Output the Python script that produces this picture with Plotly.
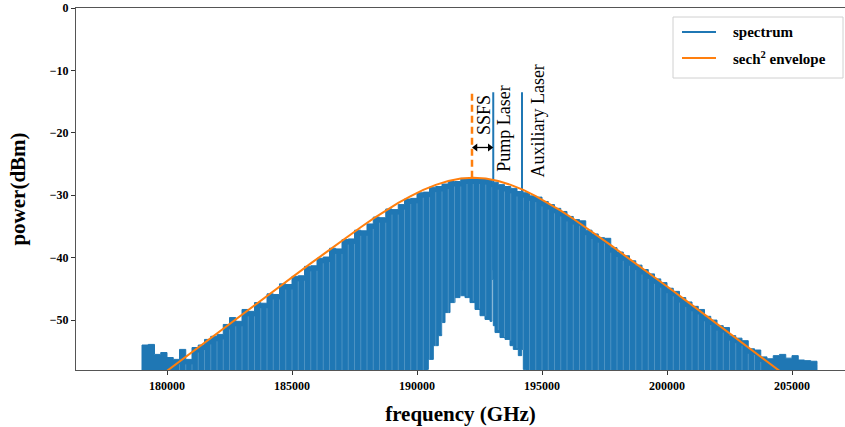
import numpy as np
import plotly.graph_objects as go

# ---------------- data ----------------
comb_start = 179000          # GHz, first sampled comb-line position
comb_step = 250              # GHz between sampled comb-line tops
spectrum_top_db = [
    -54.0, -53.9, -55.5, -55.2, -56.0, -56.3, -54.7, -56.3, -54.4, -54.0,   # 179000-181250
    -53.1, -52.6, -52.3, -50.7, -49.6, -50.2, -48.3, -48.6, -47.2, -47.3,   # 181500-183750
    -45.8, -45.9, -44.2, -44.3, -43.0, -42.9, -41.4, -41.3, -40.1, -39.9,   # 184000-186250
    -38.5, -38.6, -37.1, -37.0, -35.6, -35.7, -34.6, -33.5, -33.6, -32.2,   # 186500-188750
    -32.3, -31.5, -30.6, -30.5, -29.6, -29.5, -28.7, -28.6, -28.2, -27.8,   # 189000-191250
    -27.8, -27.3, -27.4, -27.3, -27.4, -27.5, -27.9, -28.3, -28.6, -28.9,   # 191500-193750
    -29.4, -29.6, -30.1, -30.3, -31.0, -31.5, -32.1, -32.6, -33.4, -33.9,   # 194000-196250
    -34.1, -35.6, -36.2, -36.8, -36.9, -38.4, -39.1, -39.7, -40.5, -41.2,   # 196500-198750
    -41.9, -42.6, -43.4, -44.0, -44.9, -45.4, -46.4, -47.1, -47.8, -48.3,   # 199000-201250
    -49.4, -50.0, -50.9, -51.2, -52.5, -52.9, -53.3, -54.6, -54.8, -55.9,   # 201500-203750
    -56.2, -55.7, -55.5, -56.1, -55.7, -56.4, -56.5, -56.6, -57.1,          # 204000-206000
]

# lower edge of the trace (background floor); -60 means below the visible range
floor_freq = [179000, 190400, 190453, 190653, 190853, 190987, 191120, 191320, 191520,
              191720, 191920, 192120, 192320, 192520, 192720, 192920, 193000, 193053,
              193120, 193320, 193520, 193720, 193853, 194053, 194187, 194253, 194347,
              194400, 206000]
floor_db = [-60, -60, -57.9, -56.3, -54.1, -52.5, -50.4, -48.8, -47.2,
            -46.4, -46.1, -46.4, -47.2, -48.3, -49.3, -49.9, -50.2, -43.5,
            -50.9, -52.0, -52.8, -53.1, -54.1, -54.7, -55.7, -54.7, -57.9,
            -60, -60]

# sech^2 envelope
env_freq = [179750, 180250, 180750, 181250, 181750, 182250, 182750, 183250, 183750,
            184250, 184750, 185250, 185750, 186250, 186750, 187250, 187750, 188250,
            188750, 189250, 189750, 190250, 190750, 191250, 191750, 192250, 192750,
            193250, 193750, 194250, 194750, 195250, 195750, 196250, 196750, 197250,
            197750, 198250, 198750, 199250, 199750, 200250, 200750, 201250, 201750,
            202250, 202750, 203250, 203750, 204250, 204750]
env_db = [-58.89, -57.38, -55.87, -54.36, -52.86, -51.35, -49.84, -48.35, -46.84,
          -45.34, -43.85, -42.38, -40.91, -39.48, -38.00, -36.55, -35.13, -33.76,
          -32.46, -31.24, -30.13, -29.14, -28.33, -27.71, -27.33, -27.20, -27.33,
          -27.71, -28.33, -29.14, -30.13, -31.24, -32.46, -33.76, -35.13, -36.55,
          -38.00, -39.48, -40.91, -42.38, -43.85, -45.34, -46.84, -48.35, -49.84,
          -51.35, -52.86, -54.36, -55.87, -57.38, -58.89]

pump_freq = 193050
aux_freq = 194200
laser_base_db = -42.0
laser_peak_db = -13.5
ssfs_freq = 192200
ssfs_peak_db = -27.2
ssfs_top_db = -13.3
arrow_db = -22.35

# span of the resolved comb lines (gaps between lines are visible here)
comb_resolved_span = [180500, 203750]

legend_labels = ["spectrum", "sech<sup>2</sup> envelope"]

x_tick_vals = [180000, 185000, 190000, 195000, 200000, 205000]
x_tick_text = ["180000", "185000", "190000", "195000", "200000", "205000"]
y_tick_vals = [0, -10, -20, -30, -40, -50]
y_tick_text = ["0", "\u221210", "\u221220", "\u221230", "\u221240", "\u221250"]

# ---------------- figure ----------------
BLUE = "#1f77b4"
ORANGE = "#ff7f0e"
SERIF = "Liberation Serif, Times New Roman, serif"

W, H = 845, 427
ML, MR, MT, MB = 76, 0, 8, 57
PW, PH = W - ML - MR, H - MT - MB
X_RANGE = [176360, 207120]
GHZ_PER_PX = (X_RANGE[1] - X_RANGE[0]) / PW


def px_to_paper(px, py):
    return (px - ML) / PW, (H - MB - py) / PH


comb_freq = [comb_start + i * comb_step for i in range(len(spectrum_top_db))]
poly_x = [comb_freq[0]] + comb_freq + floor_freq[::-1]
poly_y = [-60] + spectrum_top_db + floor_db[::-1]

fig = go.Figure()

fig.add_trace(go.Scatter(
    x=poly_x, y=poly_y, mode="lines", fill="toself", fillcolor=BLUE,
    line=dict(color=BLUE, width=1, shape="hv"), showlegend=False, hoverinfo="skip"))

# faint gaps between neighbouring comb lines
gap_x, gap_y = [], []
for i in range(1, len(comb_freq)):
    f = comb_freq[i]
    if comb_resolved_span[0] <= f <= comb_resolved_span[1]:
        lo = float(np.interp(f, floor_freq, floor_db))
        hi = min(spectrum_top_db[i - 1], spectrum_top_db[i]) - 0.8
        if hi > lo:
            gap_x += [f, f, None]
            gap_y += [lo, hi, None]
fig.add_trace(go.Scatter(x=gap_x, y=gap_y, mode="lines",
                         line=dict(color="rgba(255,255,255,0.2)", width=1),
                         showlegend=False, hoverinfo="skip"))

for f in (pump_freq, aux_freq):
    fig.add_trace(go.Scatter(x=[f, f], y=[laser_base_db, laser_peak_db], mode="lines",
                             line=dict(color=BLUE, width=2), showlegend=False))

fig.add_trace(go.Scatter(x=env_freq, y=env_db, mode="lines", name="sech2 envelope",
                         line=dict(color=ORANGE, width=2), showlegend=False))

fig.add_trace(go.Scatter(x=[ssfs_freq, ssfs_freq], y=[ssfs_peak_db, ssfs_top_db], mode="lines",
                         line=dict(color=ORANGE, width=2.5, dash="7px,4px"), showlegend=False))

# double-headed SSFS arrow between the dashed line and the pump laser
head = 3.5 * GHZ_PER_PX
fig.add_trace(go.Scatter(x=[ssfs_freq + head, pump_freq - head], y=[arrow_db, arrow_db],
                         mode="lines", line=dict(color="black", width=1.3),
                         showlegend=False, hoverinfo="skip"))
fig.add_trace(go.Scatter(x=[ssfs_freq + head, pump_freq - head], y=[arrow_db, arrow_db],
                         mode="markers",
                         marker=dict(symbol=["triangle-left", "triangle-right"], size=7,
                                     color="black", line=dict(width=0)),
                         showlegend=False, hoverinfo="skip"))

label_font = dict(family=SERIF, size=18, color="black")
fig.add_annotation(x=192653, y=-17.1, text="SSFS", textangle=-90, showarrow=False,
                   font=label_font, xref="x", yref="y")
fig.add_annotation(x=193493, y=-19.3, text="Pump Laser", textangle=-90, showarrow=False,
                   font=label_font, xref="x", yref="y")
fig.add_annotation(x=194840, y=-18.2, text="Auxiliary Laser", textangle=-90, showarrow=False,
                   font=label_font, xref="x", yref="y")

# ---- legend (drawn manually, matplotlib style) ----
bx0, by0 = px_to_paper(673, 78)
bx1, by1 = px_to_paper(843, 17)
fig.add_shape(type="rect", xref="paper", yref="paper", x0=bx0, y0=by0, x1=bx1, y1=by1,
              line=dict(color="#d0d0d0", width=1), fillcolor="rgba(255,255,255,0.85)")
legend_font = dict(family=SERIF, size=15, color="black", weight="bold")
for label, color, py in zip(legend_labels, [BLUE, ORANGE], [32, 58]):
    lx0, ly = px_to_paper(682, py)
    lx1, _ = px_to_paper(716, py)
    fig.add_shape(type="line", xref="paper", yref="paper", x0=lx0, x1=lx1, y0=ly, y1=ly,
                  line=dict(color=color, width=2))
    tx, _ = px_to_paper(731, py)
    fig.add_annotation(x=tx, y=ly, xref="paper", yref="paper", text=label, showarrow=False,
                       xanchor="left", yanchor="middle", font=legend_font)

tick_font = dict(family=SERIF, size=12, color="black", weight="bold")
title_font = dict(family=SERIF, size=21, color="black", weight="bold")

fig.update_layout(
    width=W, height=H,
    margin=dict(l=ML, r=MR, t=MT, b=MB),
    paper_bgcolor="white", plot_bgcolor="white",
    showlegend=False,
    xaxis=dict(range=X_RANGE, tickvals=x_tick_vals, ticktext=x_tick_text,
               ticks="outside", ticklen=4, tickcolor="#333", tickfont=tick_font,
               showline=True, linecolor="#555", linewidth=1.2, mirror=True,
               showgrid=False, zeroline=False, automargin=False,
               title=dict(text="frequency (GHz)", font=title_font, standoff=14)),
    yaxis=dict(range=[-58, 0], tickvals=y_tick_vals, ticktext=y_tick_text,
               ticks="outside", ticklen=4, tickcolor="#333", tickfont=tick_font,
               showline=True, linecolor="#555", linewidth=1.2,
               showgrid=False, zeroline=False, automargin=False,
               title=dict(text="power(dBm)", font=title_font, standoff=18)),
)

fig.write_html(
    "out.html",
    config={"displayModeBar": False},
    post_script="document.body.style.margin='0px';document.body.style.overflow='hidden';",
)
